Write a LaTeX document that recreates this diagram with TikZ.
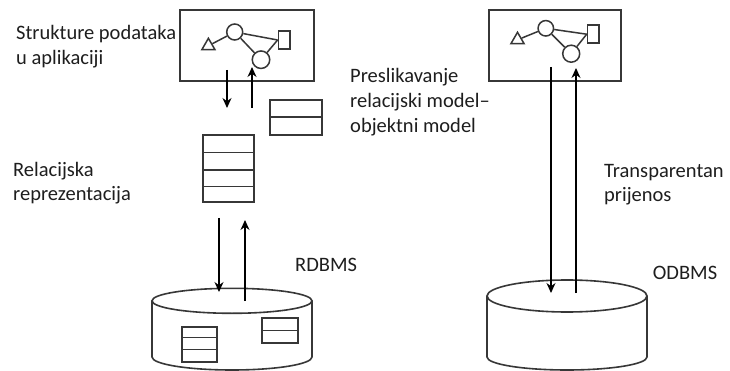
\documentclass[tikz,border=0pt]{standalone}
\usepackage{fontspec}
\setmainfont{Carlito}
\usetikzlibrary{shapes.geometric,arrows.meta}
\definecolor{txt}{RGB}{30,30,30}
\definecolor{shp}{RGB}{55,55,55}
\begin{document}
\begin{tikzpicture}[x=1pt,y=-1pt,
  lbl/.style={anchor=base west,inner sep=0pt,font=\fontsize{20.5}{24.5}\selectfont,text=txt},
  frame/.style={draw=shp,line width=1.6pt},
  boxnode/.style={frame,rectangle,inner sep=0pt,anchor=north west},
  gline/.style={draw=shp,line width=1.5pt},
  gcirc/.style={gline,circle,inner sep=0pt,minimum size=#1},
  gtri/.style={gline,regular polygon,regular polygon sides=3,inner sep=0pt,minimum size=15pt},
  grect/.style={gline,rectangle,inner sep=0pt,minimum width=11.7pt,minimum height=18pt},
  arr/.style={draw=black,line width=1.2pt,-{Stealth[length=10pt,width=9pt]}}]
\useasboundingbox (0,0) rectangle (730,371);
\fill[white] (0,0) rectangle (730,371);

% ---------- left: application box ----------
\node[boxnode,minimum width=134pt,minimum height=71pt] (appL) at (179,9) {};
\node[gtri]  (triL) at (208.4,45.8) {};
\node[gcirc=16pt] (c1L) at (234.7,32) {};
\node[gcirc=17.5pt] (c2L) at (261,59.7) {};
\node[grect] (rL) at (284.2,40) {};
\draw[gline] (triL) -- (c1L);
\draw[gline] (c1L) -- (rL.west);
\draw[gline] (c1L) -- (c2L);
\draw[gline] (c2L) -- (rL.west);

% mapping table
\node[boxnode,minimum width=52pt,minimum height=35pt] (mapT) at (269,99) {};
\draw[frame] (mapT.west) -- (mapT.east);

% relational representation stack
\node[boxnode,minimum width=51pt,minimum height=67pt] (stack) at (202,134) {};
\draw[frame] (202,152.5) -- (253,152.5);
\draw[frame] (202,170) -- (253,170);
\draw[frame] (202,186.7) -- (253,186.7);

% RDBMS cylinder
\draw[frame] (152,300.8) -- (152,357) arc[start angle=180,end angle=360,x radius=80pt,y radius=13pt] -- (312,300.8);
\draw[frame,fill=white] (232,300.8) ellipse [x radius=80pt,y radius=12.5pt];
\node[boxnode,minimum width=35pt,minimum height=35pt] (dbT1) at (181,326) {};
\draw[frame] (181,337.5) -- (216,337.5);
\draw[frame] (181,349.3) -- (216,349.3);
\node[boxnode,minimum width=36pt,minimum height=25pt] (dbT2) at (261,317) {};
\draw[frame] (dbT2.west) -- (dbT2.east);

% arrows left
\coordinate (a1s) at (227,70);  \coordinate (a1e) at (227,108);
\coordinate (a2s) at (252,108); \coordinate (a2e) at (252,67);
\coordinate (a3s) at (219,218); \coordinate (a3e) at (219,292);
\coordinate (a4s) at (245,301); \coordinate (a4e) at (245,220);
\draw[arr] (a1s) -- (a1e);
\draw[arr] (a2s) -- (a2e);
\draw[arr] (a3s) -- (a3e);
\draw[arr] (a4s) -- (a4e);

% ---------- right: application box ----------
\node[boxnode,minimum width=132pt,minimum height=71pt] (appR) at (488,9) {};
\node[gtri]  (triR) at (517.5,39.8) {};
\node[gcirc=15.5pt] (c1R) at (545.8,28.3) {};
\node[gcirc=17pt] (c2R) at (571.2,53.7) {};
\node[grect] (rR) at (593.3,34.2) {};
\draw[gline] (triR) -- (c1R);
\draw[gline] (c1R) -- (rR.west);
\draw[gline] (c1R) -- (c2R);
\draw[gline] (c2R) -- (rR.west);

% ODBMS cylinder
\draw[frame] (487,296) -- (487,357) arc[start angle=180,end angle=360,x radius=80pt,y radius=13pt] -- (647,296);
\draw[frame,fill=white] (567,296) ellipse [x radius=80pt,y radius=16pt];

% arrows right
\coordinate (b1s) at (551,67);  \coordinate (b1e) at (551,293);
\coordinate (b2s) at (576,293); \coordinate (b2e) at (576,68);
\draw[arr] (b1s) -- (b1e);
\draw[arr] (b2s) -- (b2e);

% ---------- labels ----------
\node[lbl] (l1a) at (16,40) {Strukture podataka};
\node[lbl] (l1b) at (16,64.5) {u aplikaciji};
\node[lbl] (l2a) at (350,82.7) {Preslikavanje};
\node[lbl] (l2b) at (350,107.7) {relacijski model–};
\node[lbl] (l2c) at (350,132.7) {objektni model};
\node[lbl] (l3a) at (13,176.7) {Relacijska};
\node[lbl] (l3b) at (13,200.7) {reprezentacija};
\node[lbl] (l4a) at (604,177.3) {Transparentan};
\node[lbl] (l4b) at (604,201.3) {prijenos};
\node[lbl] (l5) at (295,271.7) {RDBMS};
\node[lbl] (l6) at (652.7,279.3) {ODBMS};
\end{tikzpicture}
\end{document}
